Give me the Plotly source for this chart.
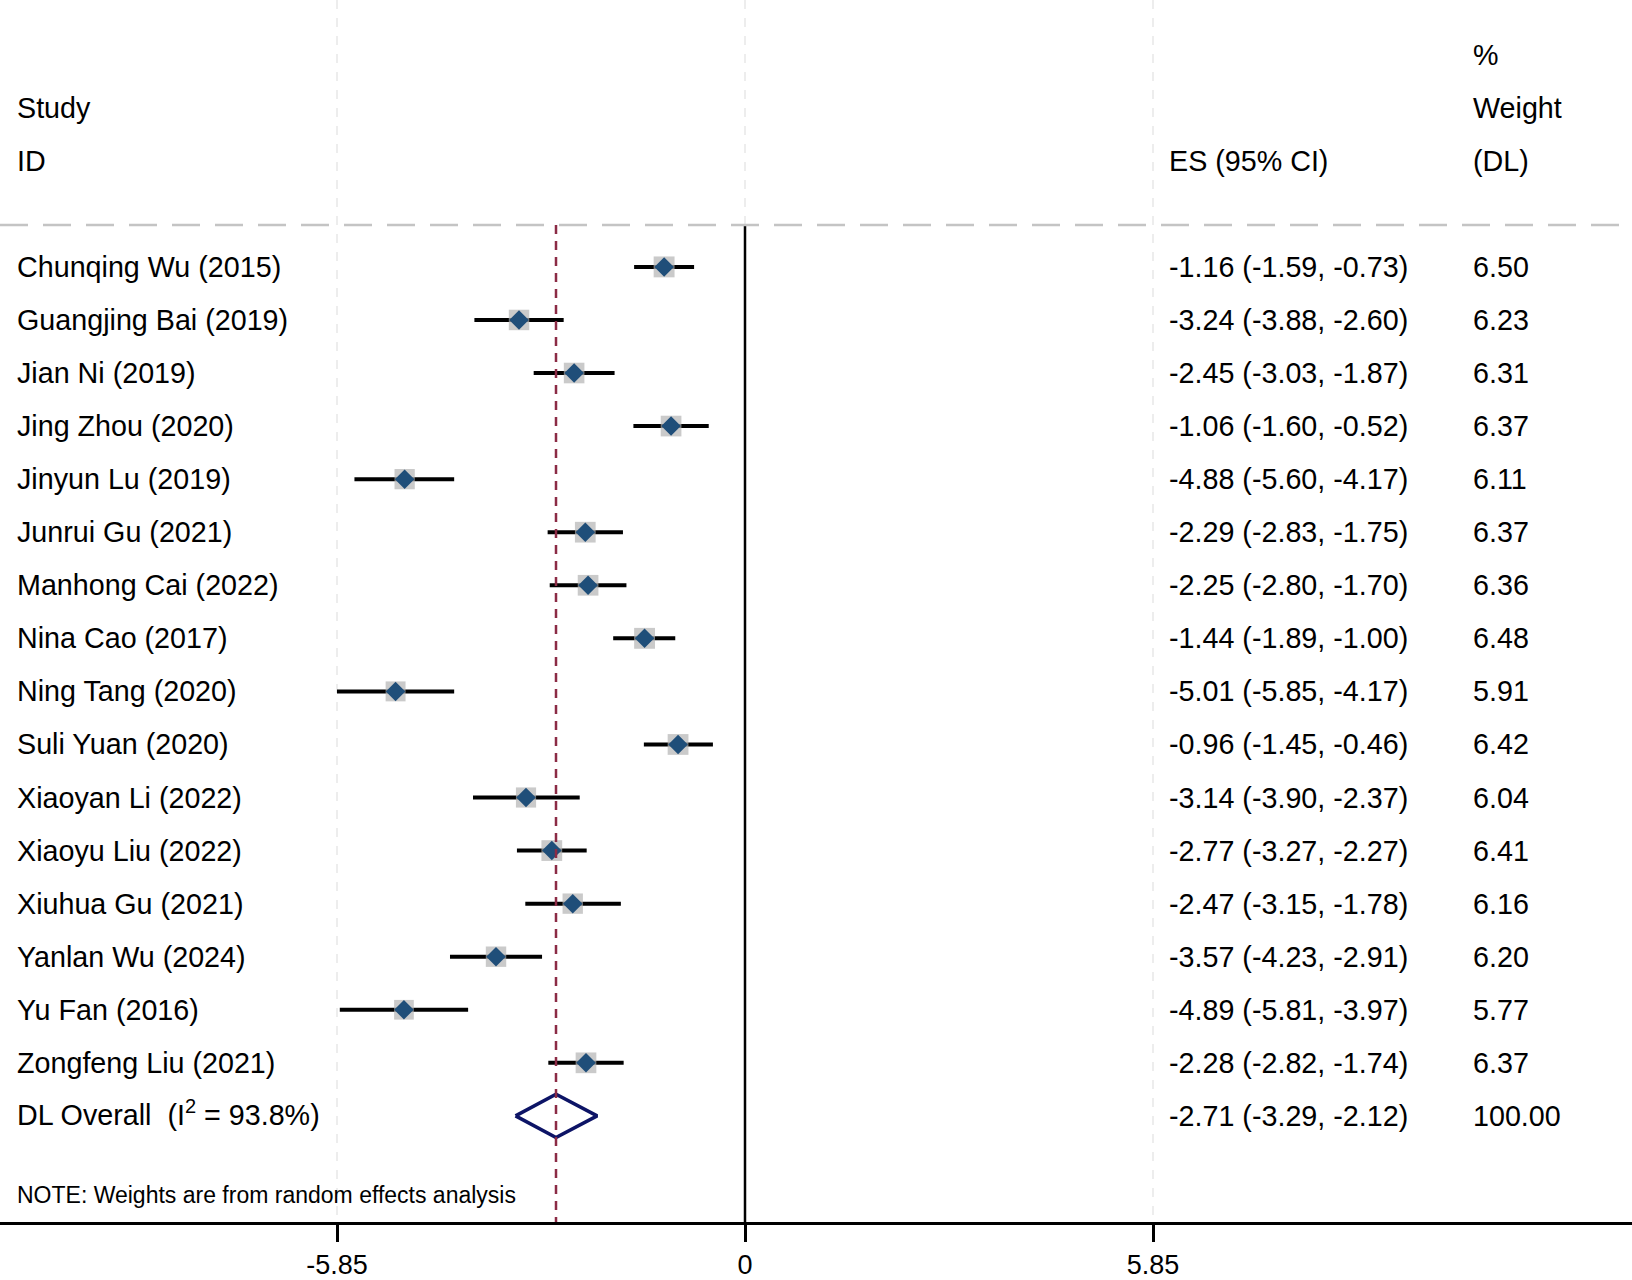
import plotly.graph_objects as go

# study data
studies = ["Chunqing Wu (2015)", "Guangjing Bai (2019)", "Jian Ni (2019)",
           "Jing Zhou (2020)", "Jinyun Lu (2019)", "Junrui Gu (2021)",
           "Manhong Cai (2022)", "Nina Cao (2017)", "Ning Tang (2020)",
           "Suli Yuan (2020)", "Xiaoyan Li (2022)", "Xiaoyu Liu (2022)",
           "Xiuhua Gu (2021)", "Yanlan Wu (2024)", "Yu Fan (2016)",
           "Zongfeng Liu (2021)"]
es = [-1.16, -3.24, -2.45, -1.06, -4.88, -2.29, -2.25, -1.44, -5.01,
      -0.96, -3.14, -2.77, -2.47, -3.57, -4.89, -2.28]
lo = [-1.59, -3.88, -3.03, -1.60, -5.60, -2.83, -2.80, -1.89, -5.85,
      -1.45, -3.90, -3.27, -3.15, -4.23, -5.81, -2.82]
hi = [-0.73, -2.60, -1.87, -0.52, -4.17, -1.75, -1.70, -1.00, -4.17,
      -0.46, -2.37, -2.27, -1.78, -2.91, -3.97, -1.74]
weights = [6.50, 6.23, 6.31, 6.37, 6.11, 6.37, 6.36, 6.48, 5.91,
           6.42, 6.04, 6.41, 6.16, 6.20, 5.77, 6.37]

overall_label = "DL Overall  (I<sup>2</sup> = 93.8%)"
overall_es, overall_lo, overall_hi = -2.71, -3.29, -2.12
overall_weight = "100.00"

tick_vals = [-5.85, 0, 5.85]
tick_text = ["-5.85", "0", "5.85"]

FONT = "Liberation Sans, Arial, sans-serif"
rows = list(range(1, len(studies) + 1))
y_overall = len(studies) + 1
y_top_line = 0.21
y_bottom = 19.0

fig = go.Figure()

# confidence interval lines
cx, cy = [], []
for l, h, r in zip(lo, hi, rows):
    cx += [l, h, None]
    cy += [r, r, None]
fig.add_trace(go.Scatter(x=cx, y=cy, mode="lines",
                         line=dict(color="black", width=4),
                         hoverinfo="skip", showlegend=False))

# weight boxes
fig.add_trace(go.Scatter(x=es, y=rows, mode="markers",
                         marker=dict(symbol="square", color="#b3b3b3",
                                     size=[8.2 * w ** 0.5 for w in weights],
                                     line=dict(width=0)),
                         showlegend=False))
# point estimates
fig.add_trace(go.Scatter(x=es, y=rows, mode="markers",
                         marker=dict(symbol="diamond", color="#1f4e79", size=15,
                                     line=dict(width=0)),
                         showlegend=False))

# overall diamond
dh = 0.41
fig.add_trace(go.Scatter(
    x=[overall_lo, overall_es, overall_hi, overall_es, overall_lo],
    y=[y_overall, y_overall - dh, y_overall, y_overall + dh, y_overall],
    mode="lines", line=dict(color="#0d1466", width=3.5),
    showlegend=False))

# reference lines
fig.add_shape(type="line", x0=0, x1=0, y0=y_top_line, y1=y_bottom,
              line=dict(color="black", width=2.5))
fig.add_shape(type="line", x0=overall_es, x1=overall_es, y0=y_top_line, y1=y_bottom,
              line=dict(color="#8b2b45", width=2.5, dash="9px,7px"))
fig.add_shape(type="line", xref="paper", x0=0, x1=1, y0=y_top_line, y1=y_top_line,
              line=dict(color="#c4c4c4", width=2.5, dash="28px,15px"))

# text columns
x_name, x_es, x_w = -10.47, 6.05, 10.41
ann = []

def txt(x, y, s, size=28.7, yshift=0):
    ann.append(dict(x=x, y=y, text=s, xanchor="left", yanchor="middle",
                    showarrow=False, yshift=yshift,
                    font=dict(family=FONT, size=size, color="black")))

txt(x_name, -2, "Study")
txt(x_name, -1, "ID")
txt(x_es, -1, "ES (95% CI)")
txt(x_w, -3, "%")
txt(x_w, -2, "Weight")
txt(x_w, -1, "(DL)")

for s, e, l, h, w, r in zip(studies, es, lo, hi, weights, rows):
    txt(x_name, r, s)
    txt(x_es, r, "%.2f (%.2f, %.2f)" % (e, l, h))
    txt(x_w, r, "%.2f" % w)

txt(x_name, y_overall, overall_label, yshift=3)
txt(x_es, y_overall, "%.2f (%.2f, %.2f)" % (overall_es, overall_lo, overall_hi))
txt(x_w, y_overall, overall_weight)
txt(x_name, 18.5, "NOTE: Weights are from random effects analysis", size=23)

fig.update_layout(
    width=1632, height=1280,
    margin=dict(l=0, r=0, t=0, b=58),
    plot_bgcolor="white", paper_bgcolor="white",
    annotations=ann,
    xaxis=dict(range=[-10.682, 12.718], tickvals=tick_vals, ticktext=tick_text,
               showgrid=True, gridcolor="#ededed", gridwidth=2, griddash="dash",
               zeroline=False, showline=True, linecolor="black", linewidth=2.5,
               ticks="outside", ticklen=17, tickwidth=2.5, tickcolor="black",
               tickfont=dict(family=FONT, size=27, color="black")),
    yaxis=dict(range=[y_bottom, -4.03], showgrid=False, zeroline=False,
               showticklabels=False, showline=False),
)

fig.write_html("out.html", config={"displayModeBar": False},
               post_script="document.body.style.margin='0';"
                           "document.body.style.overflow='hidden';")
